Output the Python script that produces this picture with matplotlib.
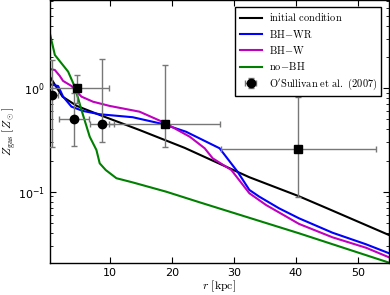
import numpy as np
import matplotlib
matplotlib.use("Agg")
import matplotlib.pyplot as plt

plt.rcParams['mathtext.fontset'] = 'cm'

# initial condition
r_init = [0.3, 1.2, 2.4, 4.7, 8.4, 14.8, 22.1, 26.1, 32.5, 40.4, 45.0, 55.0]
z_init = [1.315, 1.076, 0.83, 0.675, 0.552, 0.395, 0.265, 0.206, 0.138, 0.0908, 0.0692, 0.0381]

# BH-WR
r_bhwr = [0.3, 1.69, 2.49, 3.84, 5.71, 8.39, 13.7, 18.5, 22.3, 27.7, 30.6, 32.5, 34.1, 37.3, 40.5, 45.9, 51.3, 55.0]
z_bhwr = [1.094, 1.052, 0.830, 0.664, 0.603, 0.561, 0.525, 0.452, 0.380, 0.263, 0.156, 0.104,
          0.0895, 0.0690, 0.0553, 0.0401, 0.0310, 0.0254]

# BH-W
r_bhw = [0.3, 1.16, 1.96, 2.49, 3.84, 5.45, 7.32, 10.0, 14.8, 18.8, 22.9, 25.3, 26.6, 29.6, 32.5,
         35.2, 40.5, 45.9, 51.3, 55.0]
z_bhw = [1.538, 1.503, 1.315, 1.178, 1.052, 0.830, 0.741, 0.675, 0.594, 0.465, 0.340, 0.263,
         0.210, 0.162, 0.0966, 0.0743, 0.0488, 0.0362, 0.0287, 0.0232]

# no-BH
r_nobh = [0.3, 1.16, 3.30, 4.37, 5.45, 6.78, 7.86, 8.39, 9.36, 11.08, 13.7, 19.1, 24.5, 40.5, 55.0]
z_nobh = [3.52, 2.10, 1.449, 1.035, 0.617, 0.340, 0.253, 0.188, 0.162, 0.135, 0.123, 0.100,
          0.0789, 0.0396, 0.0206]

# O'Sullivan et al. (2007) - circles
r_circ = [0.72, 4.26, 8.76]
z_circ = [0.855, 0.50, 0.452]
z_circ_lo = [0.270, 0.279, 0.303]
z_circ_hi = [1.88, 0.90, 1.90]
r_circ_err = [1.0, 2.4, 2.0]

# O'Sullivan et al. (2007) - squares
r_sq = [4.81, 18.84, 40.4]
z_sq = [1.0, 0.452, 0.259]
z_sq_lo = [0.72, 0.272, 0.0895]
z_sq_hi = [1.34, 1.68, 0.83]
r_sq_err = [5.0, 9.0, 12.5]

fig = plt.figure(figsize=(3.9, 2.95), dpi=100)
ax = fig.add_axes([49.5/390, (295-263.3)/295, (389-49.5)/390, 263.3/295])

lw = 1.5
ax.plot(r_init, z_init, color='k', lw=lw, label=r'$\mathrm{initial\ condition}$')
ax.plot(r_bhwr, z_bhwr, color='#0000ff', lw=lw, label=r'$\mathrm{BH\!-\!WR}$')
ax.plot(r_bhw, z_bhw, color='#bf00bf', lw=lw, label=r'$\mathrm{BH\!-\!W}$')
ax.plot(r_nobh, z_nobh, color='#008000', lw=lw, label=r'$\mathrm{no\!-\!BH}$')

def eb(r, z, lo, hi, xe, marker, ms, label=None):
    z = np.array(z); lo = np.array(lo); hi = np.array(hi)
    cont = ax.errorbar(r, z, yerr=[z - lo, hi - z], xerr=xe, fmt=marker, color='k',
                       ecolor='#777777', elinewidth=1.0, capsize=2.5, capthick=1.0,
                       markersize=ms, label=label, zorder=5)
    for c in cont[1]:
        c.set_color('k')
    return cont

eb(r_circ, z_circ, z_circ_lo, z_circ_hi, r_circ_err, 'o', 6, label=r"$\mathrm{O'Sullivan\ et\ al.\ (2007)}$")
eb(r_sq, z_sq, z_sq_lo, z_sq_hi, r_sq_err, 's', 5.5)

ax.set_yscale('log')
ax.set_xlim(0.3, 55)
ax.set_ylim(0.0203, 7.14)
ax.set_xticks([10, 20, 30, 40, 50])
ax.tick_params(which='both', direction='in', top=True, right=True, labelsize=8)
ax.tick_params(which='major', length=4)
ax.tick_params(which='minor', length=2)
for s in ax.spines.values():
    s.set_linewidth(1.0)

ax.set_xlabel(r'$r\ \mathrm{[kpc]}$', fontsize=8.5, labelpad=0)
ax.set_ylabel(r'$Z_{\rm gas}\ [Z_\odot]$', fontsize=8.5, labelpad=0)

leg = ax.legend(loc='upper right', fontsize=7.5, frameon=True, fancybox=False,
                edgecolor='k', framealpha=1, handlelength=2.1, handletextpad=0.7,
                borderpad=0.4, labelspacing=0.42, bbox_to_anchor=(0.993, 0.993))
leg.get_frame().set_linewidth(1.0)

fig.savefig('out.png', dpi=100)
